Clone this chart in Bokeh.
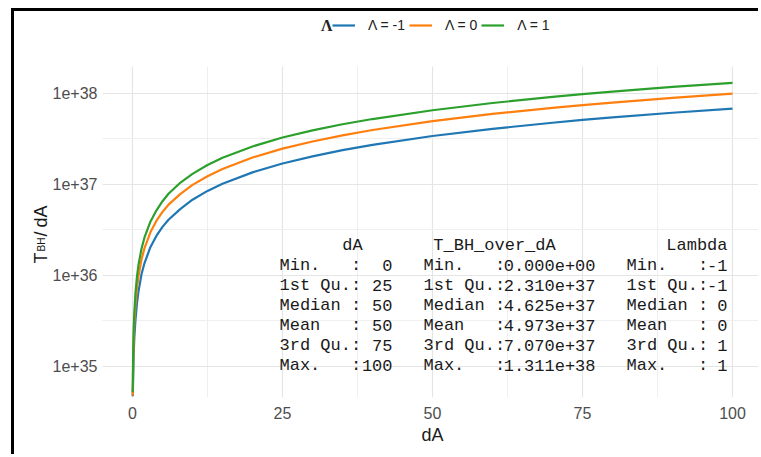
import math
from bokeh.plotting import figure
from bokeh.models import (Range1d, FixedTicker, CustomJSTickFormatter, Label,
                          Legend, LegendItem, BoxAnnotation, Title)
from bokeh.embed import file_html
from bokeh.resources import INLINE

# ---------------- data ----------------
dA = [0.04, 0.1, 0.2, 0.3, 0.5, 0.75, 1, 1.5, 2, 3, 4, 5, 6, 8, 10, 12.5, 15,
      20, 25, 30, 35, 40, 50, 60, 70, 75, 80, 90, 100]
# T_BH / dA in units of 1e36
T_lambda_m1 = [0.047, 0.069, 0.137, 0.206, 0.33, 0.50, 0.67, 1.03, 1.37, 2.06,
               2.74, 3.42, 4.1, 5.4, 6.8, 8.5, 10.2, 13.6, 17.0, 20.4, 23.9,
               27.3, 34.1, 40.9, 47.7, 51.2, 54.6, 61.4, 68.3]
T_lambda_0 = [0.048, 0.1, 0.2, 0.3, 0.48, 0.73, 0.98, 1.5, 2.0, 3.0, 4.0, 5.0,
              6.0, 7.9, 9.9, 12.3, 14.8, 19.8, 24.8, 29.7, 34.7, 39.7, 49.6,
              59.6, 69.6, 74.5, 79.5, 89.5, 99.5]
T_lambda_p1 = [0.052, 0.13, 0.26, 0.39, 0.65, 0.98, 1.31, 1.97, 2.62, 3.93,
               5.2, 6.55, 7.9, 10.5, 13.1, 16.4, 19.7, 26.2, 32.8, 39.3, 45.9,
               52.4, 65.5, 78.6, 91.7, 98.3, 104.9, 118.0, 131.1]
unit = 1e36

series_labels = ["Λ = -1", "Λ = 0", "Λ = 1"]
series_colors = ["#1f77b4", "#ff7f0e", "#2ca02c"]

x_ticks = [0, 25, 50, 75, 100]
x_minor = [12.5, 37.5, 62.5, 87.5]
y_ticks = [1e35, 1e36, 1e37, 1e38]
y_minor = [10 ** 35.5, 10 ** 36.5, 10 ** 37.5]

# summary() output table
sum_headers = ["dA", "T_BH_over_dA", "Lambda"]
sum_row_names = ["Min.", "1st Qu.", "Median", "Mean", "3rd Qu.", "Max."]
sum_dA = ["0", "25", "50", "50", "75", "100"]
sum_T = ["0.000e+00", "2.310e+37", "4.625e+37", "4.973e+37", "7.070e+37", "1.311e+38"]
sum_L = ["-1", "-1", "0", "0", "1", "1"]

# ---------------- figure ----------------
W, H = 747, 446
FB = 60
PX0, PY0 = 14, 397           # frame bottom-left on the page
panel_left, panel_top_log = -5, 38.297

p = figure(width=W, height=H, output_backend="svg", toolbar_location=None,
           y_axis_type="log", title=None,
           x_range=Range1d(-19.6667, 104.8333),
           y_range=Range1d(10 ** 34.6593, 10 ** 38.9011),
           min_border_left=0, min_border_right=0,
           min_border_top=0, min_border_bottom=FB)
p.styles = {"border-top": "3px solid black", "border-left": "3px solid black",
            "margin-left": "11px", "margin-top": "8px"}
p.outline_line_color = None
p.background_fill_color = "white"
p.border_fill_color = "white"

# grid
for g in (p.xgrid, p.ygrid):
    g.grid_line_color = "#e5e5e5"
    g.grid_line_width = 1.2
    g.minor_grid_line_color = "#efefef"
    g.minor_grid_line_width = 1

# white masks outside the ggplot panel (hide grid there)
p.add_layout(BoxAnnotation(right=panel_left, fill_color="white", fill_alpha=1,
                           line_color=None, level="underlay"))
p.add_layout(BoxAnnotation(bottom=10 ** panel_top_log, fill_color="white",
                           fill_alpha=1, line_color=None, level="underlay"))

renderers = []
for vals, col in zip([T_lambda_m1, T_lambda_0, T_lambda_p1], series_colors):
    r = p.line(dA, [v * unit for v in vals], line_color=col, line_width=2.2)
    renderers.append(r)

# axes
p.xaxis.ticker = FixedTicker(ticks=x_ticks, minor_ticks=x_minor)
p.yaxis.ticker = FixedTicker(ticks=y_ticks, minor_ticks=y_minor)
p.yaxis.formatter = CustomJSTickFormatter(
    code="return '1e+' + Math.round(Math.log10(tick));")
p.yaxis.fixed_location = panel_left
for ax in (p.xaxis, p.yaxis):
    ax.axis_line_color = None
    ax.major_tick_line_color = None
    ax.minor_tick_line_color = None
    ax.major_tick_out = 0
    ax.major_tick_in = 0
    ax.minor_tick_out = 0
    ax.minor_tick_in = 0
    ax.major_label_text_font = "Liberation Sans"
    ax.major_label_text_font_size = "16px"
    ax.major_label_text_color = "#4d4d4d"
p.yaxis.major_label_standoff = 5
p.xaxis.major_label_standoff = 9

# x axis title, placed over dA = 50
p.add_layout(Title(text="dA", align="left", offset=421 - PX0,
                   vertical_align="middle", standoff=4,
                   text_font="Liberation Sans", text_font_size="18px",
                   text_font_style="normal", text_color="#1a1a1a"), "below")

def lab(text, xp, yp, size, font="Liberation Sans", align="left",
        baseline="alphabetic", angle=0.0, style="normal", color="#1a1a1a"):
    p.add_layout(Label(x=xp - PX0, y=PY0 - yp, x_units="screen", y_units="screen",
                       text=text, angle=angle, text_align=align,
                       text_baseline=baseline, text_font=font,
                       text_font_size=size, text_font_style=style,
                       text_color=color))

# y axis title: T with subscript BH, then /dA (rotated)
ylab_angle = math.pi / 2
lab("T", 40, 263, "18px", angle=ylab_angle)
lab("BH", 41, 251, "10px", angle=ylab_angle)
lab("/", 40, 236, "18px", angle=ylab_angle)
lab("dA", 40, 227, "18px", angle=ylab_angle)

# legend
legend = Legend(items=[LegendItem(label=t, renderers=[r])
                       for t, r in zip(series_labels, renderers)],
                orientation="horizontal", location=(332 - PX0, PY0 - 25 - 8),
                glyph_width=23, glyph_height=16, label_standoff=13, spacing=4,
                padding=0, margin=0, border_line_color=None,
                background_fill_alpha=0, label_text_font="Liberation Sans",
                label_text_font_size="14px", label_text_color="#222222")
p.add_layout(legend)
lab("Λ", 332, 25, "16px", font="Liberation Serif", align="right",
    baseline="middle", style="bold", color="#222222")

# summary table text
mono = "Liberation Mono"
fs = "17px"
cw = 10.2
col_start = [279, 423, 626]
col_right = [392, 595, 727]
col_vals = [sum_dA, sum_T, sum_L]
rows_y = [265, 285, 305, 325, 345, 365]
lab(sum_headers[0], 352, 245, fs, font=mono, align="center", baseline="middle")
lab(sum_headers[1], 494, 245, fs, font=mono, align="center", baseline="middle")
lab(sum_headers[2], 727, 245, fs, font=mono, align="right", baseline="middle")
for c in range(3):
    for i, name in enumerate(sum_row_names):
        yv = rows_y[i]
        lab(name, col_start[c], yv, fs, font=mono, baseline="middle")
        lab(":", col_start[c] + 7 * cw, yv, fs, font=mono, baseline="middle")
        lab(col_vals[c][i], col_right[c], yv, fs, font=mono, align="right",
            baseline="middle")

open("out.html", "w").write(file_html(p, INLINE))
